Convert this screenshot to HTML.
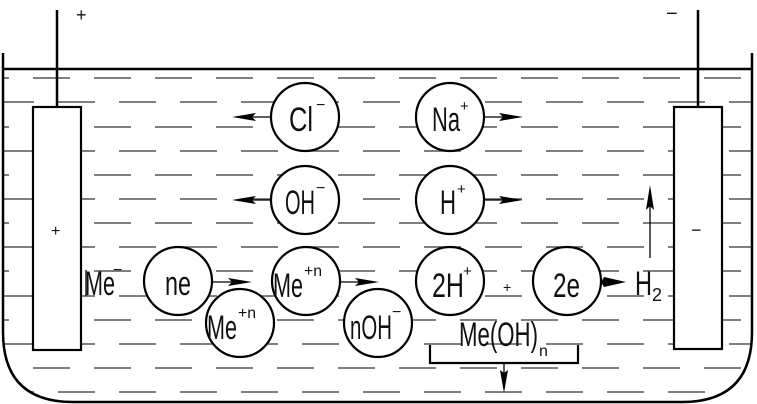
<!DOCTYPE html>
<html><head><meta charset="utf-8"><style>
html,body{margin:0;padding:0;background:#fff;}
svg{display:block;}
text{font-family:"Liberation Sans",sans-serif;fill:#111;}
</style></head><body>
<svg width="757" height="404" viewBox="0 0 757 404" xmlns="http://www.w3.org/2000/svg">
<defs>
<clipPath id="tank"><path d="M3,69 H752 V332 Q752,402 682,402 H73 Q3,402 3,332 Z"/></clipPath>
</defs>
<g clip-path="url(#tank)" stroke="#555" stroke-width="1.4" fill="none">
<line x1="0" y1="78" x2="757" y2="78" stroke-dasharray="37 24" stroke-dashoffset="-33"/>
<line x1="0" y1="102" x2="757" y2="102" stroke-dasharray="37 24" stroke-dashoffset="3"/>
<line x1="0" y1="127" x2="757" y2="127" stroke-dasharray="37 24" stroke-dashoffset="-33"/>
<line x1="0" y1="151" x2="757" y2="151" stroke-dasharray="37 24" stroke-dashoffset="3"/>
<line x1="0" y1="175" x2="757" y2="175" stroke-dasharray="37 24" stroke-dashoffset="-33"/>
<line x1="0" y1="199" x2="757" y2="199" stroke-dasharray="37 24" stroke-dashoffset="3"/>
<line x1="0" y1="223" x2="757" y2="223" stroke-dasharray="37 24" stroke-dashoffset="-33"/>
<line x1="0" y1="247" x2="757" y2="247" stroke-dasharray="37 24" stroke-dashoffset="3"/>
<line x1="0" y1="271" x2="757" y2="271" stroke-dasharray="37 24" stroke-dashoffset="-33"/>
<line x1="0" y1="296" x2="757" y2="296" stroke-dasharray="37 24" stroke-dashoffset="3"/>
<line x1="0" y1="320" x2="757" y2="320" stroke-dasharray="37 24" stroke-dashoffset="-33"/>
<line x1="0" y1="344" x2="757" y2="344" stroke-dasharray="37 24" stroke-dashoffset="3"/>
<line x1="0" y1="368" x2="757" y2="368" stroke-dasharray="37 24" stroke-dashoffset="-33"/>
<line x1="0" y1="392" x2="757" y2="392" stroke-dasharray="37 24" stroke-dashoffset="3"/>
</g>
<g stroke="#000" stroke-width="2.5" fill="none">
<path d="M3,53 V332 Q3,402 73,402 H682 Q752,402 752,332 V53"/>
<line x1="3" y1="69" x2="752" y2="69"/>
<line x1="57" y1="10" x2="57" y2="107"/>
<line x1="698" y1="10" x2="698" y2="107"/>
</g>
<g stroke="#000" stroke-width="2.2" fill="#fff">
<rect x="33" y="107" width="48" height="243"/>
<rect x="674" y="107" width="48" height="242"/>
<circle cx="305" cy="117" r="34"/>
<circle cx="450" cy="117" r="34"/>
<circle cx="305" cy="200" r="34"/>
<circle cx="450" cy="200" r="34"/>
<circle cx="178" cy="281" r="34"/>
<circle cx="306" cy="281" r="34"/>
<circle cx="450" cy="281" r="34"/>
<circle cx="567" cy="281" r="34"/>
<circle cx="240" cy="323" r="34"/>
<circle cx="378" cy="323" r="34"/>
</g>
<g stroke="#000" stroke-width="1.3" fill="none">
<line x1="271" y1="117" x2="245" y2="117"/>
<line x1="484" y1="117" x2="510" y2="117"/>
<line x1="271" y1="200" x2="245" y2="200"/>
<line x1="484" y1="200" x2="510" y2="200"/>
<line x1="212" y1="282" x2="235" y2="282"/>
<line x1="340" y1="282" x2="365" y2="282"/>
<line x1="650" y1="258" x2="650" y2="200"/>
<line x1="504" y1="363" x2="504" y2="380"/>
<path d="M430,345 V363 H578 V345" stroke-width="2.2"/>
<line x1="86" y1="270" x2="86" y2="296"/>
</g>
<g fill="#000">
<polygon points="232,117 256,113 252,117 256,121"/>
<polygon points="523,117 499,113 503,117 499,121"/>
<polygon points="232,200 256,196 252,200 256,204"/>
<polygon points="523,200 499,196 503,200 499,204"/>
<polygon points="252,282 228,278 232,282 228,286"/>
<polygon points="379,282 355,278 359,282 355,286"/>
<polygon points="626,282 604,277 601,282 604,287"/>
<polygon points="650,185 646,210 650,206 654,210"/>
<polygon points="504,393 500,370 504,373 508,370"/>
</g>
<g font-size="34">
<text x="76" y="21" font-size="18">+</text>
<text x="666" y="20" font-size="20">−</text>
<text x="51" y="236" font-size="16">+</text>
<text x="691" y="236" font-size="18">−</text>
<text x="289" y="131" textLength="24" lengthAdjust="spacingAndGlyphs">Cl</text>
<text x="316" y="110" font-size="16">−</text>
<text x="432" y="131" textLength="28" lengthAdjust="spacingAndGlyphs">Na</text>
<text x="460" y="111" font-size="15">+</text>
<text x="285" y="214" textLength="30" lengthAdjust="spacingAndGlyphs">OH</text>
<text x="316" y="193" font-size="16">−</text>
<text x="440" y="214" textLength="16" lengthAdjust="spacingAndGlyphs">H</text>
<text x="457" y="194" font-size="15">+</text>
<text x="85" y="295" textLength="30" lengthAdjust="spacingAndGlyphs">Me</text>
<text x="113" y="275" font-size="16">−</text>
<text x="165" y="295" textLength="26" lengthAdjust="spacingAndGlyphs">ne</text>
<text x="273" y="297" textLength="30" lengthAdjust="spacingAndGlyphs">Me</text>
<text x="304" y="276" font-size="16" textLength="18" lengthAdjust="spacingAndGlyphs">+n</text>
<text x="207" y="339" textLength="30" lengthAdjust="spacingAndGlyphs">Me</text>
<text x="238" y="318" font-size="16" textLength="18" lengthAdjust="spacingAndGlyphs">+n</text>
<text x="432" y="297" textLength="32" lengthAdjust="spacingAndGlyphs">2H</text>
<text x="463" y="276" font-size="15">+</text>
<text x="503" y="292" font-size="14">+</text>
<text x="553" y="297" textLength="27" lengthAdjust="spacingAndGlyphs">2e</text>
<text x="635" y="295" textLength="17" lengthAdjust="spacingAndGlyphs">H</text>
<text x="652" y="301" font-size="18">2</text>
<text x="350" y="339" textLength="42" lengthAdjust="spacingAndGlyphs">nOH</text>
<text x="392" y="317" font-size="16">−</text>
<text x="459" y="346" textLength="79" lengthAdjust="spacingAndGlyphs">Me(OH)</text>
<text x="539" y="356" font-size="16">n</text>
</g>
</svg>
</body></html>
